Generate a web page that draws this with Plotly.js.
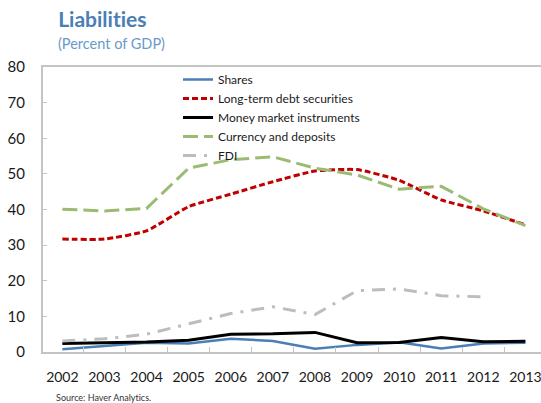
<!DOCTYPE html>
<html>
<head>
<meta charset="utf-8">
<script src="https://cdn.plot.ly/plotly-3.0.1.min.js"></script>
<style>
html,body{margin:0;padding:0;overflow:hidden;background:#fff;}
#chart{width:541px;height:403px;}
#chart text{font-variant-ligatures:none;font-feature-settings:"liga" 0;}
</style>
</head>
<body>
<div id="chart"></div>
<script>
var years = ['2002','2003','2004','2005','2006','2007','2008','2009','2010','2011','2012','2013'];
var shares = [0.8, 1.8, 2.6, 2.4, 3.7, 3.1, 0.9, 2.0, 2.7, 1.0, 2.4, 2.6];
var longTermDebt = [31.7, 31.7, 34.0, 40.8, 44.3, 47.8, 50.8, 51.2, 48.2, 42.7, 39.6, 35.7];
var moneyMarket = [2.4, 2.5, 2.8, 3.3, 5.0, 5.1, 5.5, 2.6, 2.7, 4.1, 2.9, 3.0];
var currencyDeposits = [40.1, 39.6, 40.3, 51.6, 54.0, 54.8, 51.6, 49.7, 45.7, 46.5, 40.2, 35.5];
var fdi = [3.1, 3.7, 5.0, 8.0, 10.8, 12.7, 10.5, 17.2, 17.7, 15.8, 15.5, null];

var FONT = 'Lato, "Liberation Sans", sans-serif';

var traces = [
  {x: years, y: shares, name: 'Shares', type: 'scatter', mode: 'lines',
   line: {color: '#4a7eb5', width: 2.5}},
  {x: years, y: longTermDebt, name: 'Long-term debt securities', type: 'scatter', mode: 'lines',
   line: {color: '#c00000', width: 3, dash: '6px,3px', shape: 'spline', smoothing: 0.5}},
  {x: years, y: moneyMarket, name: 'Money market instruments', type: 'scatter', mode: 'lines',
   line: {color: '#000000', width: 3}},
  {x: years, y: currencyDeposits, name: 'Currency and deposits', type: 'scatter', mode: 'lines',
   line: {color: '#9bbb73', width: 3, dash: '15px,6px'}},
  {x: years, y: fdi, name: 'FDI', type: 'scatter', mode: 'lines',
   line: {color: '#bdbdbd', width: 3, dash: '13px,8px,3px,8px'}}
];

var L = 43, R = 541, T = 67, B = 352;
function px(x){ return (x - L) / (R - L); }
function py(y){ return (B - y) / (B - T); }

var layout = {
  width: 541, height: 403,
  margin: {l: L, r: 541 - R, t: T, b: 403 - B, pad: 0},
  paper_bgcolor: '#ffffff', plot_bgcolor: '#ffffff',
  font: {family: FONT, color: '#1a1a1a'},
  showlegend: true,
  legend: {
    x: px(178), y: py(65), xanchor: 'left', yanchor: 'top',
    bgcolor: 'rgba(0,0,0,0)', borderwidth: 0,
    font: {family: FONT, size: 12, color: '#1a1a1a'},
    itemwidth: 30, tracegroupgap: 0
  },
  xaxis: {
    type: 'category', range: [-0.46, 11.37], fixedrange: true,
    showgrid: false, zeroline: false,
    showline: true, linecolor: '#c4c4c4', linewidth: 2, mirror: true,
    ticks: 'inside', ticklen: 5, tickcolor: '#c4c4c4', tickwidth: 1,
    tickson: 'boundaries', tickangle: 0,
    tickfont: {family: FONT, size: 14, color: '#1a1a1a'},
    ticklabelstandoff: 11
  },
  yaxis: {
    range: [0, 80], dtick: 10, fixedrange: true,
    showgrid: false, zeroline: false,
    showline: true, linecolor: '#c4c4c4', linewidth: 2,
    ticks: 'inside', ticklen: 4, tickcolor: '#c4c4c4', tickwidth: 1,
    tickfont: {family: FONT, size: 15, color: '#1a1a1a'},
    ticklabelstandoff: 13
  },
  annotations: [
    {text: '<b>Liabilities</b>', xref: 'paper', yref: 'paper', x: px(56), y: py(19),
     xanchor: 'left', yanchor: 'middle', showarrow: false,
     font: {family: FONT, size: 21, color: '#4a7eb5'}},
    {text: '(Percent of GDP)', xref: 'paper', yref: 'paper', x: px(56), y: py(44),
     xanchor: 'left', yanchor: 'middle', showarrow: false,
     font: {family: FONT, size: 14.5, color: '#6a9ac9'}},
    {text: 'Source: Haver Analytics.', xref: 'paper', yref: 'paper', x: px(54), y: py(397),
     xanchor: 'left', yanchor: 'middle', showarrow: false,
     font: {family: FONT, size: 9, color: '#333333'}}
  ]
};

Plotly.newPlot('chart', traces, layout, {displayModeBar: false, staticPlot: true});
</script>
</body>
</html>
